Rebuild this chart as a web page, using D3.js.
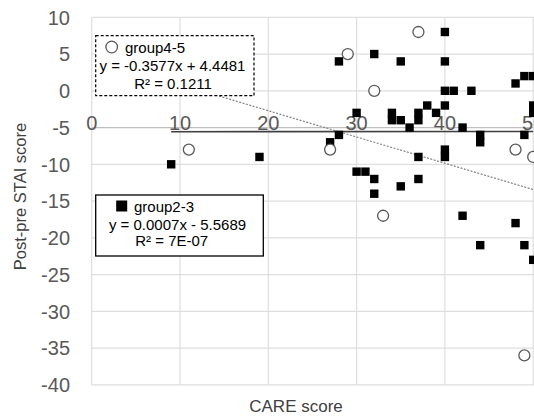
<!DOCTYPE html>
<html lang="en">
<head>
    <meta charset="UTF-8" />
    <script src="https://d3js.org/d3.v7.min.js"></script>
    <title>CARE score vs Post-pre STAI score</title>
    <style>
        body { margin: 0; background: #fff; }
        text { font-family: "Liberation Sans", Arial, sans-serif; }
    </style>
</head>
<body>
    <svg id="chart"></svg>
    <script>

    // data
    var group45X = [11, 27, 29, 32, 33, 37, 48, 50, 49]
    var group45Y = [-8, -8, 5, 0, -17, 8, -8, -9, -36]

    var group23X = [9, 19, 27, 28, 28, 30, 30, 31, 32, 32, 32, 34, 34, 35, 35, 35, 36, 37, 37, 37, 37, 38, 39,
                    40, 40, 40, 41, 40, 40, 40, 42, 42, 43, 44, 44, 44, 48, 48, 49, 50, 49, 49, 50, 50, 50]
    var group23Y = [-10, -9, -7, -6, 4, -3, -11, -11, 5, -12, -14, -3, -4, -4, 4, -13, -5, -3, -4, -9, -12, -2, -3,
                    8, 4, 0, 0, -2, -8, -9, -5, -17, 0, -6, -7, -21, 1, -18, 2, 2, -6, -21, -2, -3, -23]

    // trendline coefficients (slope, intercept) and legend texts
    var trend45 = [-0.3577, 4.4481]
    var trend23 = [0.0007, -5.5689]
    var legend45 = ["group4-5", "y = -0.3577x + 4.4481", "R² = 0.1211"]
    var legend23 = ["group2-3", "y = 0.0007x - 5.5689", "R² = 7E-07"]

    var xTicks = [0, 10, 20, 30, 40, 50]
    var yTicks = [10, 5, 0, -5, -10, -15, -20, -25, -30, -35, -40]

    var width = 534
    var height = 417

    var svg = d3.select("#chart")
        .attr("width", width)
        .attr("height", height)

    var x = d3.scaleLinear().domain([0, 50]).range([91.7, 533.2])
    var y = d3.scaleLinear().domain([-40, 10]).range([384.8, 17.3])

    // gridlines
    svg.append("g").selectAll("line")
        .data(yTicks)
        .enter().append("line")
        .attr("x1", x(0)).attr("x2", width)
        .attr("y1", function(d){ return y(d) }).attr("y2", function(d){ return y(d) })
        .attr("stroke", function(d){ return d == -5 ? "#bfbfbf" : "#dedede" })
        .attr("stroke-width", 1.2)

    svg.append("g").selectAll("line")
        .data(xTicks)
        .enter().append("line")
        .attr("x1", function(d){ return x(d) }).attr("x2", function(d){ return x(d) })
        .attr("y1", y(10)).attr("y2", y(-40))
        .attr("stroke", "#dedede")
        .attr("stroke-width", 1.2)

    // tick labels
    svg.append("g").selectAll("text")
        .data(yTicks)
        .enter().append("text")
        .attr("x", 70)
        .attr("y", function(d){ return y(d) })
        .attr("dy", "0.36em")
        .attr("text-anchor", "end")
        .style("font-size", "20px")
        .style("fill", "#595959")
        .text(function(d){ return d })

    // x labels; the last one runs off the right edge, as in the original
    svg.append("g").selectAll("text")
        .data(xTicks)
        .enter().append("text")
        .attr("x", function(d){ return x(d) })
        .attr("y", 129.5)
        .attr("text-anchor", "middle")
        .style("font-size", "20px")
        .style("fill", "#595959")
        .text(function(d){ return d })

    // trendlines over the x range of each group
    function trendPoints(xs, t) {
        var e = d3.extent(xs)
        return e.map(function(v){ return [x(v), y(t[0] * v + t[1])] })
    }

    svg.append("path")
        .attr("d", d3.line()(trendPoints(group45X, trend45)))
        .attr("fill", "none")
        .attr("stroke", "#7f7f7f")
        .attr("stroke-width", 1.2)
        .attr("stroke-dasharray", "2,1.5")

    svg.append("path")
        .attr("d", d3.line()(trendPoints(group23X, trend23)))
        .attr("fill", "none")
        .attr("stroke", "#404040")
        .attr("stroke-width", 1.6)

    // markers
    svg.append("g").selectAll("rect")
        .data(d3.range(group23X.length))
        .enter().append("rect")
        .attr("x", function(i){ return x(group23X[i]) - 4.2 })
        .attr("y", function(i){ return y(group23Y[i]) - 4.2 })
        .attr("width", 8.4)
        .attr("height", 8.4)
        .attr("fill", "#000")

    svg.append("g").selectAll("circle")
        .data(d3.range(group45X.length))
        .enter().append("circle")
        .attr("cx", function(i){ return x(group45X[i]) })
        .attr("cy", function(i){ return y(group45Y[i]) })
        .attr("r", 5.5)
        .attr("fill", "#fff")
        .attr("stroke", "#595959")
        .attr("stroke-width", 1.3)

    // legend / equation boxes
    var box1 = svg.append("g")
    box1.append("rect")
        .attr("x", 95.7).attr("y", 35.7).attr("width", 158.3).attr("height", 60)
        .attr("fill", "#fff").attr("stroke", "#000")
        .attr("stroke-width", 1.2).attr("stroke-dasharray", "3,2")
    box1.append("circle")
        .attr("cx", 111.7).attr("cy", 47).attr("r", 5.8)
        .attr("fill", "#fff").attr("stroke", "#595959").attr("stroke-width", 1.3)
    box1.append("text").attr("x", 125).attr("y", 52.5)
        .style("font-size", "15px").text(legend45[0])
    box1.append("text").attr("x", 172.5).attr("y", 70.5).attr("text-anchor", "middle")
        .style("font-size", "15px").text(legend45[1])
    box1.append("text").attr("x", 173).attr("y", 89).attr("text-anchor", "middle")
        .style("font-size", "15px").text(legend45[2])

    var box2 = svg.append("g")
    box2.append("rect")
        .attr("x", 95.7).attr("y", 195).attr("width", 167.6).attr("height", 61)
        .attr("fill", "#fff").attr("stroke", "#000").attr("stroke-width", 1.3)
    box2.append("rect")
        .attr("x", 116.2).attr("y", 200.5).attr("width", 11).attr("height", 11)
        .attr("fill", "#000")
    box2.append("text").attr("x", 134).attr("y", 212)
        .style("font-size", "15px").text(legend23[0])
    box2.append("text").attr("x", 177.5).attr("y", 230).attr("text-anchor", "middle")
        .style("font-size", "15px").text(legend23[1])
    box2.append("text").attr("x", 171.7).attr("y", 246).attr("text-anchor", "middle")
        .style("font-size", "15px").text(legend23[2])

    // axis titles
    svg.append("text")
        .attr("x", 296).attr("y", 412)
        .attr("text-anchor", "middle")
        .style("font-size", "17px")
        .style("fill", "#404040")
        .text("CARE score")

    svg.append("text")
        .attr("transform", "translate(26,196.5) rotate(-90)")
        .attr("text-anchor", "middle")
        .style("font-size", "16.5px")
        .style("fill", "#404040")
        .text("Post-pre STAI score")

    </script>
</body>
</html>
